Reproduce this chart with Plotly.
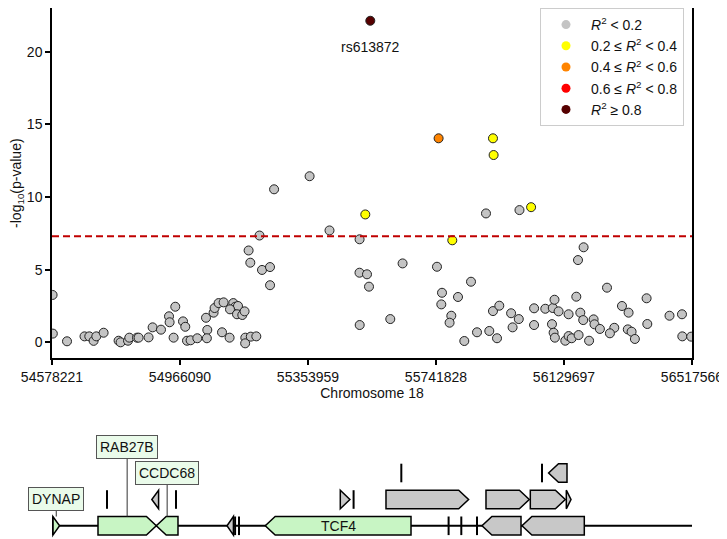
import plotly.graph_objects as go

# ---------------- data ----------------
positions = [
    54580000, 54580700, 54623700, 54676700, 54691200, 54704300, 54712500, 54734600,
    54780000, 54786100, 54808500, 54812500, 54835800, 54840600, 54870900, 54883100,
    54908500, 54932800, 54934600, 54951800, 54946700, 54975200, 54982100, 54987300,
    54998200, 55018500, 55044900, 55048800, 55047500, 55067900, 55070900, 55083100,
    55098200, 55093400, 55116400, 55127600, 55133700, 55141800, 55117600, 55138800,
    55154900, 55161800, 55164000, 55163500, 55180600, 55197300, 55174000, 55179100,
    55207000, 55214600, 55238800, 55239000, 55251200, 55358800, 55419100, 55510300,
    55510000, 55532700, 55538800, 55510600, 55603300, 55640600, 55744800, 55760000,
    55757900, 55808500, 55788200, 55783000, 55827600, 55847900, 55866100, 55893300,
    55903300, 55914500, 55926700, 55933600, 55969400, 55992700, 55973900, 55994800,
    56039100, 56039000, 56073000, 56095700, 56100900, 56113300, 56093300, 56098200,
    56102100, 56133600, 56143600, 56143700, 56153000, 56173900, 56167000, 56172100,
    56189100, 56179100, 56187900, 56205700, 56219400, 56222100, 56238500, 56260000,
    56282100, 56268800, 56305400, 56325400, 56323000, 56334500, 56344500, 56380000,
    56382100, 56449400, 56487200, 56488200, 56515100,
    55527600, 55791200, 55914500, 55916400, 56030000,
    55749700,
    55542700,
]
neglog10p = [
    3.26, 0.60, 0.07, 0.41, 0.41, 0.10, 0.41, 0.66,
    0.11, 0.00, 0.11, 0.32, 0.32, 0.32, 0.34, 1.03,
    0.87, 1.79, 1.38, 2.45, 0.32, 1.44, 1.07, 0.11,
    0.14, 0.28, 1.69, 0.85, 0.28, 2.04, 2.36, 2.70,
    2.75, 0.69, 0.32, 2.70, 2.45, 2.50, 2.27, 1.93,
    1.88, 2.13, 0.32, -0.07, 0.39, 0.41, 6.32, 5.48,
    7.35, 4.98, 5.18, 3.93, 10.53, 11.43, 7.70, 7.09,
    4.79, 4.68, 3.83, 1.19, 1.60, 5.43, 5.20, 3.41,
    2.61, 3.12, 1.83, 1.35, 0.09, 4.17, 0.69, 8.87,
    0.78, 2.15, 0.28, 2.52, 2.00, 1.60, 1.03, 9.10,
    2.34, 1.19, 2.31, 2.36, 2.93, 2.13, 1.25, 0.66,
    0.32, 0.11, 1.93, 0.43, 0.28, 0.50, 3.14, 5.66,
    6.54, 2.04, 1.53, 0.11, 1.58, 1.24, 0.92, 3.76,
    1.00, 0.62, 2.50, 2.04, 0.89, 0.73, 0.23, 3.03,
    1.26, 1.83, 1.93, 0.41, 0.39,
    8.80, 7.02, 14.04, 12.89, 9.30,
    14.04,
    22.13,
]
# LD bin per SNP: 0:<0.2, 1:0.2-0.4, 2:0.4-0.6, 3:0.6-0.8, 4:>=0.8
ld_bin = [0] * 117 + [1, 1, 1, 1, 1] + [2] + [4]

bin_labels = [
    "<i>R</i><sup>2</sup> &lt; 0.2",
    "0.2 ≤ <i>R</i><sup>2</sup> &lt; 0.4",
    "0.4 ≤ <i>R</i><sup>2</sup> &lt; 0.6",
    "0.6 ≤ <i>R</i><sup>2</sup> &lt; 0.8",
    "<i>R</i><sup>2</sup> ≥ 0.8",
]
bin_colors = ["#c4c4c4", "#ffff00", "#ff8400", "#ff0000", "#560000"]

lead_snp = "rs613872"
lead_pos = 55542700
lead_val = 22.13
gw_threshold = 7.3

x_ticks = [54578221, 54966090, 55353959, 55741828, 56129697, 56517566]
y_ticks = [0, 5, 10, 15, 20]

# genes: start, end, strand, row (1 = baseline row), name, coding(green)
gene_start = [54581000, 54717600, 54894300, 54744900, 54880700, 54954000,
              55108500, 55133000, 55144800, 55224500, 55451800, 55492100,
              55636700, 55590300, 55893300, 56027600, 56136700, 56063000,
              56083000, 55780000, 55818500, 55866100, 55881200, 56002400,
              54579300]
gene_end = [54601200, 54894300, 54960000, 54744900, 54901200, 54954000,
            55128000, 55133000, 55144800, 55666100, 55481000, 55492100,
            55636700, 55840600, 56024500, 56133600, 56150900, 56063000,
            56138800, 55780000, 55818500, 55866100, 55999400, 56191200,
            54579300]
gene_strand = ["+", "+", "-", "+", "-", "+",
               "-", "+", "+", "-", "+", "+",
               "+", "+", "+", "+", "+", "+",
               "-", "+", "+", "+", "-", "-",
               "+"]
gene_row = [1, 1, 1, 2, 2, 2,
            1, 1, 1, 1, 2, 2,
            3, 2, 2, 2, 2, 3,
            3, 1, 1, 1, 1, 1,
            1]
gene_name = ["DYNAP", "RAB27B", "CCDC68", "", "", "",
             "", "", "", "TCF4", "", "",
             "", "", "", "", "", "",
             "", "", "", "", "", "",
             ""]
gene_coding = [True, True, True, False, False, False,
               False, False, False, True, False, False,
               False, False, False, False, False, False,
               False, False, False, False, False, False,
               False]
boxed_labels = {"DYNAP": -17, "RAB27B": -69, "CCDC68": -43}

# ---------------- figure ----------------
# the page body has an 8px margin, so the figure is laid out 8px smaller
FONT = "Liberation Sans, Arial, Helvetica, sans-serif"
OFF = 8
W, H = 727 - OFF, 539 - OFF
PAGE_BOTTOM = OFF + H
ML, MR, MT, MB = 52 - OFF, 727 - 692, 0, 0
plot_h = H - MT - MB
xmin, xmax = x_ticks[0], x_ticks[-1]

fig = go.Figure()

for b in range(5):
    xs = [p for p, k in zip(positions, ld_bin) if k == b]
    ys = [v for v, k in zip(neglog10p, ld_bin) if k == b]
    fig.add_trace(go.Scatter(
        x=xs, y=ys, mode="markers", showlegend=False,
        marker=dict(size=9, color=bin_colors[b], line=dict(color="#222222", width=1)),
        xaxis="x", yaxis="y", hoverinfo="x+y",
    ))
    fig.add_trace(go.Scatter(
        x=[None], y=[None], mode="markers", name=bin_labels[b],
        marker=dict(size=9, color=bin_colors[b]), xaxis="x", yaxis="y",
    ))

fig.add_annotation(x=lead_pos, y=lead_val, xref="x", yref="y", text=lead_snp,
                   showarrow=False, yshift=-26, font=dict(size=14, color="#111"))

shapes = []
shapes.append(dict(type="line", xref="x", yref="y", x0=xmin, x1=xmax,
                   y0=gw_threshold, y1=gw_threshold,
                   line=dict(color="#c00000", width=2, dash="7px,4px")))

# gene track (y2 units = px above the figure bottom)
row_center = {1: PAGE_BOTTOM - 525.8, 2: PAGE_BOTTOM - 499.5, 3: PAGE_BOTTOM - 473.0}
hh = 9.3
head_bp = 30000
shapes.append(dict(type="line", xref="x2", yref="y2", x0=xmin + 8000, x1=xmax,
                   y0=row_center[1], y1=row_center[1],
                   line=dict(color="black", width=2)))

annos = []
for s, e, st, r, nm, cod in zip(gene_start, gene_end, gene_strand, gene_row,
                                gene_name, gene_coding):
    yc = row_center[r]
    y0, y1 = yc - hh, yc + hh
    fill = "#c8f5c4" if cod else "#c8c8c8"
    if e - s < 3000:
        shapes.append(dict(type="line", xref="x2", yref="y2", x0=s, x1=s,
                           y0=y0, y1=y1, line=dict(color="black", width=2)))
        continue
    hl = min(head_bp, (e - s))
    if st == "+":
        b = e - hl
        path = f"M{s},{y0} L{b},{y0} L{e},{yc} L{b},{y1} L{s},{y1} Z"
    else:
        b = s + hl
        path = f"M{e},{y0} L{b},{y0} L{s},{yc} L{b},{y1} L{e},{y1} Z"
    shapes.append(dict(type="path", xref="x2", yref="y2", path=path,
                       fillcolor=fill, line=dict(color="black", width=1.5)))
    if nm in boxed_labels:
        annos.append(dict(x=(s + e) / 2, y=y1, xref="x2", yref="y2", text=nm,
                          showarrow=True, arrowhead=0, arrowwidth=1, arrowcolor="#333",
                          ax=0, ay=boxed_labels[nm], bgcolor="#eafbea",
                          bordercolor="#555555", borderwidth=1, borderpad=3,
                          font=dict(size=14, color="#111")))
    elif nm:
        annos.append(dict(x=(s + e) / 2, y=yc, xref="x2", yref="y2", text=nm,
                          showarrow=False, font=dict(size=14, color="#111")))

for a in annos:
    fig.add_annotation(**a)

main_bottom = (PAGE_BOTTOM - 358.3) / plot_h
track_top = (PAGE_BOTTOM - 400) / plot_h
y_top_val = (342.3 - OFF) / 14.53

fig.update_layout(
    width=W, height=H,
    margin=dict(l=ML, r=MR, t=MT, b=MB, autoexpand=False),
    paper_bgcolor="white", plot_bgcolor="white",
    font=dict(family=FONT, size=14, color="#111"),
    shapes=shapes,
    showlegend=True,
    legend=dict(x=(684 - 52) / 640, y=(PAGE_BOTTOM - 8) / plot_h, xanchor="right",
                yanchor="top", bgcolor="white", bordercolor="#cccccc", borderwidth=1,
                font=dict(size=14, color="#111"), itemwidth=40,
                tracegroupgap=0),
    xaxis=dict(domain=[0, 1], range=[xmin, xmax], tickvals=x_ticks,
               ticktext=[str(t) for t in x_ticks], ticks="outside", ticklen=5,
               tickwidth=1.5, tickcolor="black", showline=True, linecolor="black",
               linewidth=1.5, mirror=True, showgrid=False, zeroline=False,
               automargin=False,
               title=dict(text="Chromosome 18", standoff=4, font=dict(size=14)),
               anchor="y"),
    yaxis=dict(domain=[main_bottom, 1], range=[-1.1, y_top_val], tickvals=y_ticks,
               ticks="outside", ticklen=5, tickwidth=1.5, tickcolor="black",
               showline=True, linecolor="black", linewidth=1.5, mirror=True,
               showgrid=False, zeroline=False, automargin=False,
               title=dict(text="-log<sub>10</sub>(p-value)", standoff=10, font=dict(size=14)),
               anchor="x"),
    xaxis2=dict(domain=[0, 1], range=[xmin, xmax], visible=False, anchor="y2"),
    yaxis2=dict(domain=[0, track_top], range=[0, PAGE_BOTTOM - 400], visible=False,
                anchor="x2"),
)

fig.write_html("out.html")
